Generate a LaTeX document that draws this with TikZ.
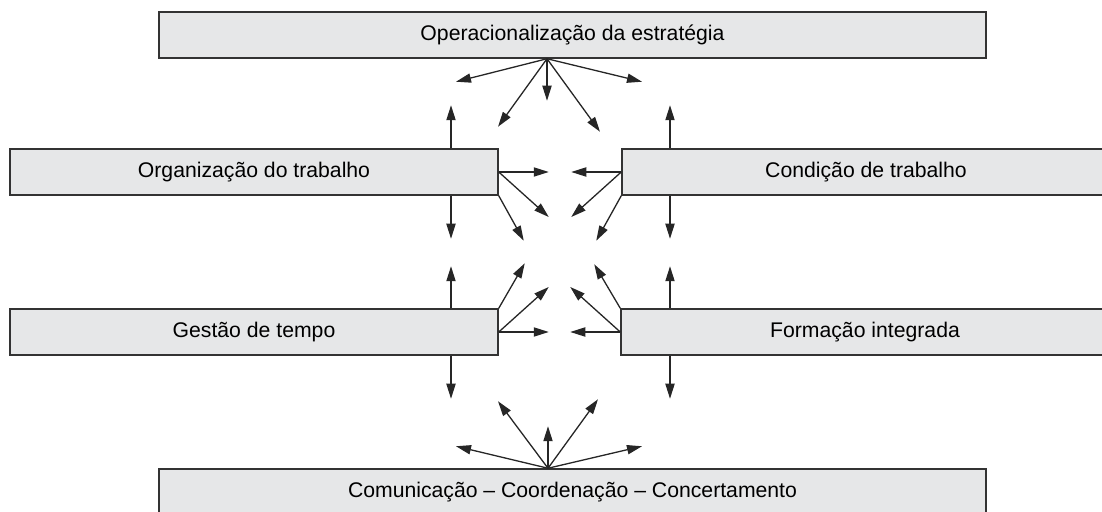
\documentclass[tikz,border=0pt]{standalone}
\usepackage{xcolor}
\usepackage{fontspec}
\setmainfont{Liberation Sans}
\usepackage{tikz}
\usetikzlibrary{arrows.meta}
\definecolor{cinzaCaixa}{HTML}{E6E7E8}
\definecolor{cinzaBorda}{HTML}{333333}
\tikzset{
  caixa/.style={draw=cinzaBorda, fill=cinzaCaixa, line width=0.75pt, minimum height=23pt, inner sep=0pt, font=\fontsize{10.6}{12}\selectfont},
  larga/.style={caixa, minimum width=413.5pt},
  lateral/.style={caixa, minimum width=244pt},
  seta/.style={draw=black!85, line width=0.65pt, -{Triangle[length=7.5pt,width=4.6pt]}}
}

\begin{document}
\begin{tikzpicture}[x=0.5pt,y=-0.5pt]
\useasboundingbox (0,0) rectangle (1102,512);
%Caixas
\node (estrategia) [larga] at (572.5,35) {Operacionalização da estratégia};
\node (organizacao) [lateral] at (254,172) {Organização do trabalho};
\node (condicao) [lateral] at (866,172) {Condição de trabalho};
\node (gestao) [lateral] at (254,332) {Gestão de tempo};
\node (formacao) [lateral] at (865,332) {Formação integrada};
\node (comunicacao) [larga] at (572.5,492) {Comunicação -- Coordenação -- Concertamento};
%Leques
\foreach \dx/\dy in {-91/23,-49/68,0/42,53/73,95/23}
  \draw[seta] ([xshift=-12.75pt]estrategia.south) -- ++(\dx,\dy);
\foreach \dx/\dy in {-92/-22,-50/-67,0/-42,50/-69,94/-22}
  \draw[seta] ([xshift=-12.25pt]comunicacao.north) -- ++(\dx,\dy);
%Laterais
\draw[seta] (organizacao.east) -- ++(50,0);
\draw[seta] (organizacao.east) -- ++(50,45);
\draw[seta] (organizacao.south east) -- ++(25,45);
\draw[seta] (condicao.west) -- ++(-50,0);
\draw[seta] (condicao.west) -- ++(-50,45);
\draw[seta] (condicao.south west) -- ++(-25,45);
\draw[seta] (gestao.east) -- ++(50,0);
\draw[seta] (gestao.east) -- ++(50,-45);
\draw[seta] (gestao.north east) -- ++(26,-45);
\draw[seta] (formacao.west) -- ++(-50,0);
\draw[seta] (formacao.west) -- ++(-50,-45);
\draw[seta] (formacao.north west) -- ++(-26,-44);
%Verticais
\draw[seta] ([xshift=98.5pt]organizacao.north) -- ++(0,-43);
\draw[seta] ([xshift=98.5pt]organizacao.south) -- ++(0,43);
\draw[seta] ([xshift=-98pt]condicao.north) -- ++(0,-43);
\draw[seta] ([xshift=-98pt]condicao.south) -- ++(0,43);
\draw[seta] ([xshift=98.5pt]gestao.north) -- ++(0,-42);
\draw[seta] ([xshift=98.5pt]gestao.south) -- ++(0,43);
\draw[seta] ([xshift=-97.5pt]formacao.north) -- ++(0,-42);
\draw[seta] ([xshift=-97.5pt]formacao.south) -- ++(0,43);
\end{tikzpicture}
\end{document}
